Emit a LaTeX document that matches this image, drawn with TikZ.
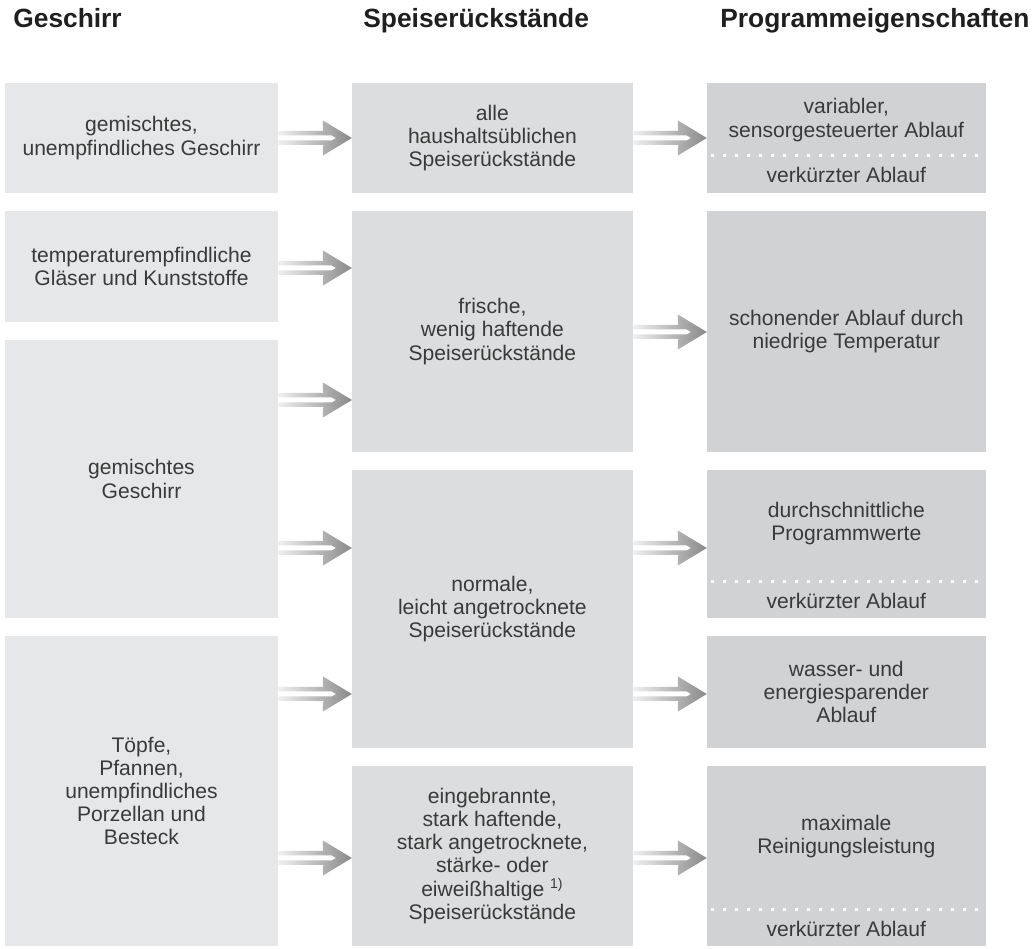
\documentclass[tikz,border=0pt]{standalone}
\usepackage{fontspec}
\setmainfont{Liberation Sans}
\usetikzlibrary{positioning, calc}

\definecolor{boxone}{HTML}{E6E7E8}
\definecolor{boxtwo}{HTML}{DCDDDE}
\definecolor{boxthree}{HTML}{D1D2D4}
\definecolor{txtgray}{HTML}{3A3A3A}
\definecolor{arrlight}{HTML}{F0F0F0}
\definecolor{arrdark}{HTML}{898989}

\tikzset{
  cell/.style={inner sep=2pt, outer sep=0pt, align=center, text=txtgray, font=\fontsize{12}{13.2}\selectfont},
  colone/.style={cell, fill=boxone, minimum width=5.46cm},
  coltwo/.style={cell, fill=boxtwo, minimum width=5.62cm},
  colthree/.style={cell, fill=boxthree, minimum width=5.58cm},
  head/.style={inner sep=0pt, anchor=base west, text=black!88, font=\fontsize{15}{18}\selectfont\bfseries},
  dotline/.style={white, line width=0.06cm, dash pattern=on 0.06cm off 0.18cm},
  flowarr/.pic={
    \shade[left color=arrlight, right color=arrdark]
      (0,-7) -- (46.33,-7) -- (45,-7.8) -- (45,-17.5) -- (74,0) -- (45,17.5) -- (45,7.8)
      -- (46.33,7) -- (0,7) -- (0,2.5) -- (53.83,2.5) -- (58,0) -- (53.83,-2.5) -- (0,-2.5) -- cycle;
  }
}

\begin{document}
\begin{tikzpicture}[x=0.02cm, y=-0.02cm, node distance=0.36cm and 1.48cm]
\useasboundingbox (0,0) rectangle (1036,949);

% headings
\node[head] (hGeschirr) at (13,28) {Geschirr};
\node[head] (hSpeise) at (363,28) {Speiserückstände};
\node[head] (hProgramm) at (720,28) {Programmeigenschaften};

% Geschirr
\node[colone, minimum height=2.2cm, anchor=north west] (gA) at (5,83) {gemischtes,\\unempfindliches Geschirr};
\node[colone, minimum height=2.22cm, below=of gA] (gB) {temperaturempfindliche\\Gläser und Kunststoffe};
\node[colone, minimum height=5.56cm, below=of gB] (gC) {gemischtes\\Geschirr};
\node[colone, minimum height=6.2cm, below=of gC] (gD) {Töpfe,\\Pfannen,\\unempfindliches\\Porzellan und\\Besteck};

% Speiserueckstaende
\node[coltwo, minimum height=2.2cm, right=of gA] (sA) {alle\\haushaltsüblichen\\Speiserückstände};
\node[coltwo, minimum height=4.82cm, below=of sA] (sB) {frische,\\wenig haftende\\Speiserückstände};
\node[coltwo, minimum height=5.56cm, below=of sB] (sC) {normale,\\leicht angetrocknete\\Speiserückstände};
\node[coltwo, minimum height=3.6cm, below=of sC] (sD) {eingebrannte,\\stark haftende,\\stark angetrocknete,\\stärke- oder\\eiweißhaltige \textsuperscript{1)}\\Speiserückstände};

% Programmeigenschaften
\node[colthree, minimum height=2.2cm, right=of sA] (pA) {};
\node[colthree, minimum height=4.82cm, below=of pA] (pB) {schonender Ablauf durch\\niedrige Temperatur};
\node[colthree, minimum height=2.96cm, below=of pB] (pC) {};
\node[colthree, minimum height=2.24cm, below=of pC] (pD) {wasser- und\\energiesparender\\Ablauf};
\node[colthree, minimum height=3.6cm, below=of pD] (pE) {};

% split boxes
\node[cell] (pAtop) at ($(pA.north)+(0,37)$) {variabler,\\sensorgesteuerter Ablauf};
\node[cell] (pAbot) at ($(pA.south)+(0,-18)$) {verkürzter Ablauf};
\draw[dotline] ($(pA.south west)+(4,-37)$) -- ($(pA.south east)+(-4,-37)$);

\node[cell] (pCtop) at ($(pC.north)+(0,54)$) {durchschnittliche\\Programmwerte};
\node[cell] (pCbot) at ($(pC.south)+(0,-17)$) {verkürzter Ablauf};
\draw[dotline] ($(pC.south west)+(4,-36)$) -- ($(pC.south east)+(-4,-36)$);

\node[cell] (pEtop) at ($(pE.north)+(0,71)$) {maximale\\Reinigungsleistung};
\node[cell] (pEbot) at ($(pE.south)+(0,-17)$) {verkürzter Ablauf};
\draw[dotline] ($(pE.south west)+(4,-36)$) -- ($(pE.south east)+(-4,-36)$);

% arrows
\coordinate (r1) at (0,138);
\coordinate (r2) at (0,268);
\coordinate (r3) at (0,332);
\coordinate (r4) at (0,400);
\coordinate (r5) at (0,548);
\coordinate (r6) at (0,694);
\coordinate (r7) at (0,858);

\pic at (gA.east |- r1) {flowarr};
\pic at (sA.east |- r1) {flowarr};
\pic at (gB.east |- r2) {flowarr};
\pic at (sB.east |- r3) {flowarr};
\pic at (gC.east |- r4) {flowarr};
\pic at (gC.east |- r5) {flowarr};
\pic at (sC.east |- r5) {flowarr};
\pic at (gD.east |- r6) {flowarr};
\pic at (sC.east |- r6) {flowarr};
\pic at (gD.east |- r7) {flowarr};
\pic at (sD.east |- r7) {flowarr};
\end{tikzpicture}
\end{document}
